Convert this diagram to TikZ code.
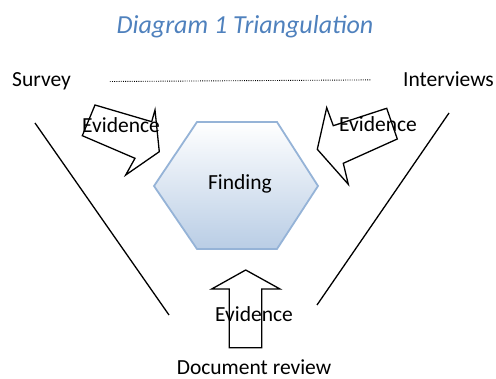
\documentclass[tikz,border=0pt]{standalone}
\usepackage{fontspec}
\setmainfont{Carlito}
\definecolor{titleblue}{HTML}{4F81BD}
\definecolor{hexline}{HTML}{95B3D7}
\definecolor{hexfill}{HTML}{B9CDE5}
\begin{document}
\begin{tikzpicture}[
  x = 1pt, y = -1pt,
  label/.style = {
    font = \fontsize{21.5}{25}\selectfont,
    inner sep = 0pt,
    outer sep = 0pt,
    anchor = base,
  },
  blockarrow/.style = {
    draw = black,
    line width = 1.3pt,
    line join = miter,
  }
]
  \useasboundingbox (0, 0) rectangle (496, 379);

  \node[label, font = \fontsize{26}{30}\selectfont\itshape, text = titleblue]
    (title) at (245, 34) {Diagram 1 Triangulation};

  \node[label] (survey) at (41.5, 87) {Survey};
  \node[label] (interviews) at (448.5, 87) {Interviews};
  \node[label, text depth = 0pt] (review) at (254, 375) {Document review};

  \draw[line width = 0.9pt, dash pattern = on 0.9pt off 1.3pt,
        shorten <= 39pt, shorten >= 32pt]
    (survey.east) -- (interviews.west);

  % sides of the triangle
  \coordinate (s1) at (35, 123);
  \coordinate (s2) at (169, 315);
  \coordinate (i1) at (449, 113);
  \coordinate (i2) at (317, 305);
  \draw[line width = 1.3pt] (s1) -- (s2);
  \draw[line width = 1.3pt] (i1) -- (i2);

  % finding
  \draw[hexline, line width = 1.8pt, top color = white, bottom color = hexfill]
    (154, 186) -- (197, 122) -- (277, 122) -- (318, 186)
    -- (277, 249) -- (197, 249) -- cycle;
  \node[label] (finding) at (240, 190) {Finding};

  % evidence arrows
  \draw[blockarrow]
    (95, 105) -- (151.7, 121.7) -- (155, 110) -- (159.3, 151.7)
    -- (125.7, 175) -- (135, 158.3) -- (82.3, 135.7) -- cycle;
  \draw[blockarrow]
    (317.3, 149.3) -- (326.7, 107.7) -- (333.3, 125.7) -- (386.7, 108.3)
    -- (397.3, 139) -- (343.3, 163.3) -- (348.3, 184.3) -- cycle;
  \draw[blockarrow]
    (245.7, 270) -- (280, 289) -- (261.7, 289) -- (261.7, 347.7)
    -- (229.3, 347.7) -- (229.3, 289) -- (211.7, 289) -- cycle;

  \node[label] (evleft) at (121, 133) {Evidence};
  \node[label] (evright) at (378, 132) {Evidence};
  \node[label] (evbottom) at (254, 322) {Evidence};
\end{tikzpicture}
\end{document}
